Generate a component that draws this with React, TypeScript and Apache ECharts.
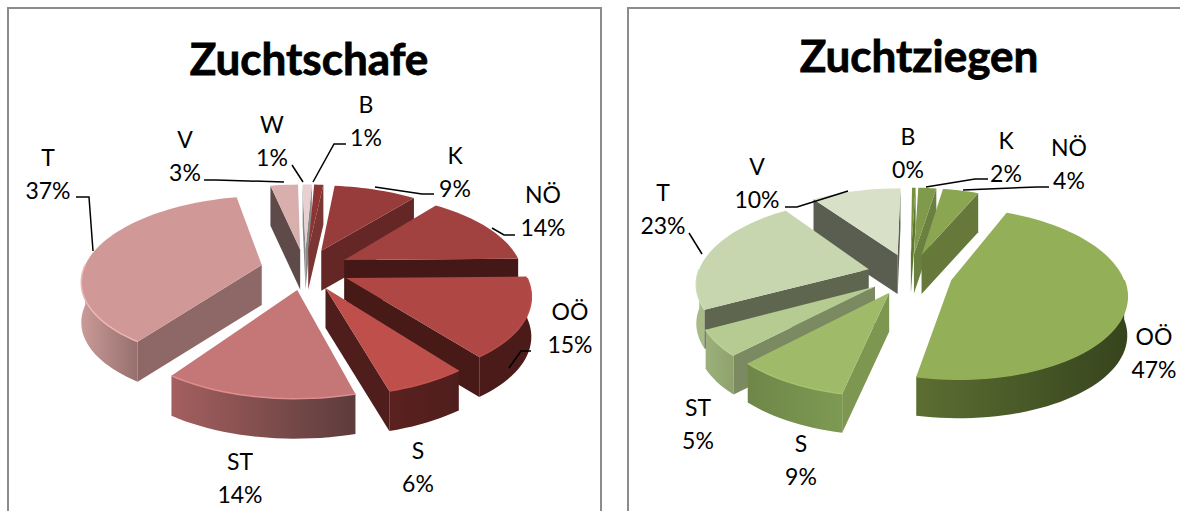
import React, { useEffect, useRef } from "react";
import * as echarts from "echarts";

const sheepCategories = ["B", "K", "NÖ", "OÖ", "S", "ST", "T", "V", "W"];
const sheepValues = [1, 9, 14, 15, 6, 14, 37, 3, 1];
const goatCategories = ["B", "K", "NÖ", "OÖ", "S", "ST", "T", "V"];
const goatValues = [0.4, 2, 4, 47, 9, 5, 23, 10];

const sheepLook = {
  top: ["#8E3432", "#973C3A", "#A24240", "#AF4744", "#BE4F4B", "#C57677", "#D09998", "#D9AFAE", "#E8D0D0"],
  radial: ["#7B3634", "#642725", "#431816", "#471A18", "#4F1E1C", "#5A2A2A", "#8D6866", "#5F4A4A", "#8A8A8A"],
  outerLeft: ["#6A2A28", "#6A2A28", "#431816", "#4A1B19", "#5A211F", "#A45F5F", "#C99A98", "#5F4A4A", "#8A8A8A"],
  outerRight: ["#6A2A28", "#6A2A28", "#431816", "#4A1B19", "#4F1E1C", "#5D3C3C", "#96706E", "#5F4A4A", "#8A8A8A"],
  rim: ["#8E3432", "#973C3A", "#A24240", "#B84E4B", "#C65450", "#E08E8E", "#EDB5B3", "#D9AFAE", "#E8D0D0"],
};
const goatLook = {
  top: ["#76923C", "#7F9A4B", "#8AA651", "#93B058", "#9FBB69", "#B6CB92", "#C7D6AE", "#D8E1C8"],
  radial: ["#5F7830", "#6A8040", "#66783A", "#566A30", "#7D9650", "#7C8A62", "#5E6650", "#5A5E50"],
  outerLeft: ["#5F7830", "#6A8040", "#66783A", "#5C6E32", "#6F8648", "#9BB07A", "#A8BA88", "#5A5E50"],
  outerRight: ["#5F7830", "#6A8040", "#66783A", "#36441D", "#7D9A53", "#8FA26E", "#A8BA88", "#5A5E50"],
  rim: ["#76923C", "#7F9A4B", "#8AA651", "#93B058", "#A5C26E", "#BCD098", "#CDDBB6", "#D8E1C8"],
};

const sheepLayout = {
  cx: 305, cy: 269, rx: 178, ry: 82, persp: 0.17, explode: 0.25, thick: 40, rotateDeg: 2.5,
  labels: [[366, 120], [455, 171], [543, 210], [570, 327], [418, 466], [240, 477], [48, 173], [185, 155], [272, 140]],
  leaders: [
    [[346, 144], [334, 144], [313, 182]],
    [[434, 194], [422, 194], [375, 187]],
    [[515, 235], [504, 235], [492, 228]],
    [[531, 351], [521, 351], [509, 368]],
    [],
    [],
    [[76, 197], [89, 197], [93, 251]],
    [[204, 180], [216, 180], [284, 182]],
    [[292, 165], [303, 182]],
  ],
};
const goatLayout = {
  cx: 910, cy: 274, rx: 171, ry: 82, persp: 0.15, explode: 0.25, thick: 39, rotateDeg: 0.5,
  labels: [[908, 152], [1006, 156], [1069, 163], [1154, 352], [801, 459], [698, 423], [663, 208], [757, 182]],
  leaders: [
    [],
    [[988, 179], [975, 179], [926, 187]],
    [[1049, 187], [1037, 187], [963, 190]],
    [],
    [],
    [],
    [[689, 233], [702, 254]],
    [[785, 207], [797, 207], [848, 191]],
  ],
};

const FONT = "Lato";

function pieSeries(categories: string[], values: number[], look: any, layout: any) {
  const total = values.reduce((a, b) => a + b, 0);
  const rotate = (layout.rotateDeg * Math.PI) / 180;
  const starts: number[] = [];
  values.reduce((acc, v, i) => {
    starts[i] = rotate + (acc / total) * Math.PI * 2;
    return acc + v;
  }, 0);
  const proj = (X: number, Y: number, down: number) => {
    const w = 1 + layout.persp * Y;
    return [layout.cx + (layout.rx * X) / w, layout.cy - (layout.ry * Y) / w + down * layout.thick];
  };
  // far slices are painted first
  const depth = values.map((v, i) => {
    const span = (v / total) * Math.PI * 2;
    const mid = starts[i] + span / 2;
    return Math.cos(mid) * (1 + 0.5 * Math.sin(span / 2) / Math.max(span / 2, 0.01));
  });
  const rank = depth.map((d) => depth.filter((o) => o > d).length);

  const renderItem = (params: any, api: any) => {
    const i = params.dataIndex;
    const value = api.value(0);
    const span = (value / total) * Math.PI * 2;
    const a0 = starts[i];
    const a1 = a0 + span;
    const mid = a0 + span / 2;
    const ox = layout.explode * Math.sin(mid);
    const oy = layout.explode * Math.cos(mid);
    const pt = (a: number, down: number) => proj(ox + Math.sin(a), oy + Math.cos(a), down);
    const apex = (down: number) => proj(ox, oy, down);
    const arc = (from: number, to: number, down: number) => {
      const n = Math.max(2, Math.ceil((to - from) / 0.04));
      const out: number[][] = [];
      for (let k = 0; k <= n; k++) out.push(pt(from + ((to - from) * k) / n, down));
      return out;
    };
    const base = rank[i] * 10;
    const children: any[] = [];
    const vis0 = Math.max(a0, Math.PI / 2);
    const vis1 = Math.min(a1, (Math.PI * 3) / 2);
    if (vis1 > vis0) {
      children.push({
        type: "polygon",
        z2: base + 1,
        shape: { points: [...arc(vis0, vis1, 0), ...arc(vis0, vis1, 1).reverse()] },
        style: {
          fill: new echarts.graphic.LinearGradient(0, 0, 1, 0, [
            { offset: 0, color: look.outerLeft[i] },
            { offset: 1, color: look.outerRight[i] },
          ]),
        },
      });
    }
    const wall = (a: number) => ({
      type: "polygon",
      z2: base + 2,
      shape: { points: [apex(0), pt(a, 0), pt(a, 1), apex(1)] },
      style: { fill: look.radial[i] },
    });
    if (Math.sin(a0) < 0) children.push(wall(a0));
    if (Math.sin(a1) > 0) children.push(wall(a1));
    children.push({
      type: "polygon",
      z2: base + 3,
      shape: { points: [apex(0), ...arc(a0, a1, 0)] },
      style: { fill: look.top[i] },
    });
    if (vis1 > vis0) {
      children.push({
        type: "polyline",
        z2: base + 4,
        shape: { points: arc(vis0, vis1, 0) },
        style: { fill: "none", stroke: look.rim[i], lineWidth: 1.5 },
      });
    }
    if (layout.leaders[i].length) {
      children.push({
        type: "polyline",
        z2: 500,
        shape: { points: layout.leaders[i] },
        style: { fill: "none", stroke: "#000", lineWidth: 1.5 },
      });
    }
    children.push({
      type: "text",
      z2: 600,
      x: layout.labels[i][0],
      y: layout.labels[i][1],
      style: {
        text: `${categories[i]}\n${Math.round(value)}%`,
        fontFamily: FONT,
        fontSize: 23,
        lineHeight: 33,
        fill: "#000",
        align: "center",
        verticalAlign: "middle",
      },
    });
    return { type: "group", children };
  };

  return {
    type: "custom",
    coordinateSystem: "none",
    silent: true,
    clip: false,
    renderItem,
    data: values.map((v, i) => ({ name: categories[i], value: [v] })),
  };
}

export default function App() {
  const ref = useRef<HTMLDivElement>(null);
  useEffect(() => {
    const chart = echarts.init(ref.current!, undefined, { renderer: "svg" });
    const titleStyle = { fontFamily: FONT, fontSize: 44, fontWeight: "bold", color: "#000", textBorderColor: "#000", textBorderWidth: 0.8 };
    chart.setOption({
      animation: false,
      backgroundColor: "#fff",
      graphic: [
        { type: "rect", z: -1, shape: { x: 8, y: 8, width: 593, height: 530 }, style: { fill: "#fff", stroke: "#8C8C8C", lineWidth: 2 } },
        { type: "rect", z: -1, shape: { x: 628, y: 8, width: 600, height: 530 }, style: { fill: "#fff", stroke: "#8C8C8C", lineWidth: 2 } },
      ],
      title: [
        { text: "Zuchtschafe", left: 304, top: 31, textAlign: "center", textStyle: titleStyle },
        { text: "Zuchtziegen", left: 914, top: 28, textAlign: "center", textStyle: titleStyle },
      ],
      series: [
        pieSeries(sheepCategories, sheepValues, sheepLook, sheepLayout),
        pieSeries(goatCategories, goatValues, goatLook, goatLayout),
      ],
    });
    return () => chart.dispose();
  }, []);
  return <div ref={ref} style={{ position: "fixed", left: 0, top: 0, width: 1180, height: 511 }} />;
}
